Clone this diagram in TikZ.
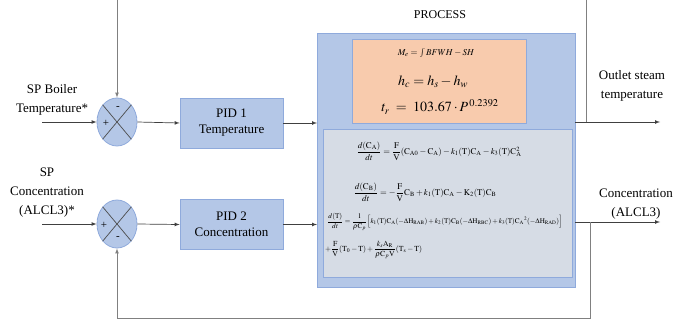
\documentclass[tikz,border=0pt]{standalone}
\usepackage{amsmath,amssymb}
\usepackage{mathptmx}
\usepackage{fontspec}
\setmainfont{Liberation Serif}
\usepackage{tikz}
\usetikzlibrary{arrows,shapes,shapes.geometric,calc}
\usetikzlibrary{positioning}
\definecolor{boxblue}{HTML}{B4C7E7}
\definecolor{boxedge}{HTML}{8FAADC}
\definecolor{energyfill}{HTML}{F8CBAD}
\definecolor{modelfill}{HTML}{D6DCE5}
\definecolor{linegray}{HTML}{808080}
\tikzstyle{sig}=[->,>=latex,draw=black!75,line width=0.7pt]
\tikzstyle{fb}=[->,>=latex,draw=linegray,line width=0.7pt]
\tikzstyle{pidbox}=[rectangle,draw=boxedge,fill=boxblue,line width=0.8pt,
                minimum width=103pt,minimum height=50pt,align=center,inner sep=0,
                font=\fontsize{13}{16}\selectfont]
\tikzstyle{sumnode}=[ellipse,draw=boxedge,fill=boxblue,line width=0.8pt,
                minimum width=40pt,minimum height=48pt,inner sep=0]
\tikzstyle{lbl}=[align=center,inner sep=0,font=\fontsize{13}{19}\selectfont]
\tikzstyle{eqn}=[inner sep=0,font=\fontsize{8.7}{10}\selectfont]

\begin{document}
\begin{tikzpicture}[x=1pt,y=-1pt]
\useasboundingbox (0,0) rectangle (674,326);
% process block
\node[draw=boxedge,fill=boxblue,line width=0.8pt,minimum width=258pt,minimum height=254pt,inner sep=0,outer sep=0] (process) at (446,160) {};
\node[draw=boxedge,fill=energyfill,line width=0.8pt,minimum width=174pt,minimum height=84pt,inner sep=0] (energy) at (439,81) {};
\node[draw=boxedge,fill=modelfill,line width=0.8pt,minimum width=249pt,minimum height=148pt,inner sep=0] (model) at (447.5,203) {};
\node[font=\fontsize{12}{14}\selectfont] (ptitle) at (440,15) {PROCESS};
\node[inner sep=0,font=\fontsize{9}{10}\selectfont] (me) at (436,53) {$M_e=\int BFWH-SH$};
\node[inner sep=0,font=\fontsize{14}{16}\selectfont] (hc) at (433,82) {$h_c=h_s-h_w$};
\node[inner sep=0,font=\fontsize{14}{16}\selectfont] (tr) at (440,107) {$t_r\;=\;103.67\cdot P^{\,0.2392}$};
\node[eqn] (dca) at (439,151) {$\dfrac{d(\mathrm{C_A})}{dt}=\dfrac{\mathrm{F}}{\mathrm{V}}(\mathrm{C_{A0}}-\mathrm{C_A})-k_1(\mathrm{T})\mathrm{C_A}-k_3(\mathrm{T})\mathrm{C_A^2}$};
\node[eqn] (dcb) at (425,192) {$\dfrac{d(\mathrm{C_B})}{dt}=-\dfrac{\mathrm{F}}{\mathrm{V}}\mathrm{C_B}+k_1(\mathrm{T})\mathrm{C_A}-\mathrm{K_2}(\mathrm{T})\mathrm{C_B}$};
\node[eqn,anchor=west,font=\fontsize{7.1}{9}\selectfont] (dt) at (327,222) {$\dfrac{d(\mathrm{T})}{dt}=\dfrac{1}{\rho\mathrm{C}_p}\Big[k_1(\mathrm{T})\mathrm{C_A}(-\Delta\mathrm{H_{RAB}})+k_2(\mathrm{T})\mathrm{C_B}(-\Delta\mathrm{H_{RBC}})+k_3(\mathrm{T})\mathrm{C_A}{}^2(-\Delta\mathrm{H_{RAD}})\Big]$};
\node[eqn,anchor=west,font=\fontsize{7.7}{9}\selectfont] (dt2) at (325,250) {$+\dfrac{\mathrm{F}}{\mathrm{V}}(\mathrm{T_0}-\mathrm{T})+\dfrac{k_s\mathrm{A_R}}{\rho\mathrm{C}_p\mathrm{V}}(\mathrm{T_s}-\mathrm{T})$};
% controllers
\node[pidbox] (pid1) at (231.5,123) {PID 1\\Temperature};
\node[pidbox] (pid2) at (231.5,224.5) {PID 2\\Concentration};
\node[sumnode] (sum1) at (117,122) {};
\node[sumnode] (sum2) at (117,224) {};
\draw[black!70,line width=0.7pt] (sum1.north east)--(sum1.south west) (sum1.north west)--(sum1.south east);
\draw[black!70,line width=0.7pt] (sum2.north east)--(sum2.south west) (sum2.north west)--(sum2.south east);
\node[font=\fontsize{11}{12}\selectfont] (s1m) at (118,108) {-};
\node[font=\fontsize{11}{12}\selectfont] (s1p) at (106,123) {+};
\node[font=\fontsize{11}{12}\selectfont] (s2p) at (104,225) {+};
\node[font=\fontsize{11}{12}\selectfont] (s2m) at (118,238) {-};
% labels
\node[lbl] (sp1) at (52,100) {SP Boiler\\Temperature*};
\node[lbl] (sp2) at (47,193) {SP\\Concentration\\(ALCL3)*};
\node[lbl] (ost) at (632,86) {Outlet steam\\temperature};
\node[lbl] (oca) at (636,204) {Concentration\\(ALCL3)};
\coordinate (in1) at (42,122);
\coordinate (in2) at (42,224);
\coordinate (out1) at (660,122);
\coordinate (out2) at (660,222);
\coordinate (tap1) at (586,122);
\coordinate (tap2) at (590,222);
\coordinate (top) at (117,-2);
\coordinate (bot) at (117,318);
% signals
\draw[sig] (in1) -- (sum1.west);
\draw[sig] (in2) -- (sum2.west);
\draw[sig] (sum1.east) -- (pid1.west);
\draw[sig] (sum2.east) -- (pid2.west);
\draw[sig] (pid1.east) -- (pid1.east -| process.west);
\draw[sig] (pid2.east) -- (pid2.east -| process.west);
\draw[sig] (out1 -| process.east) -- (out1);
\draw[sig] (out2 -| process.east) -- (out2);
% feedback
\draw[fb] (tap1) |- (top) -- (sum1.north);
\draw[fb] (tap2) |- (bot) -- (sum2.south);
\end{tikzpicture}
\end{document}
